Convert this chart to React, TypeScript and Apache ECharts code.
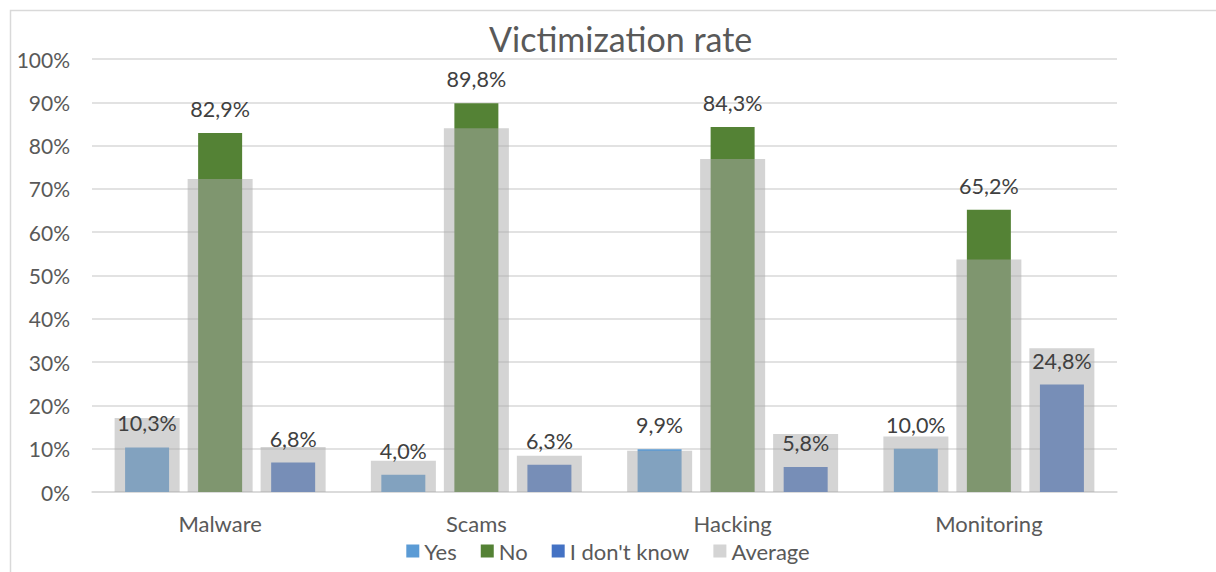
import React, { useEffect, useRef } from "react";
import * as echarts from "echarts";

const categories = ["Malware", "Scams", "Hacking", "Monitoring"];
const yesValues = [10.3, 4.0, 9.9, 10.0];
const noValues = [82.9, 89.8, 84.3, 65.2];
const idkValues = [6.8, 6.3, 5.8, 24.8];
const avgYes = [17.1, 7.2, 9.5, 12.8];
const avgNo = [72.3, 84.0, 76.9, 53.7];
const avgIdk = [10.4, 8.4, 13.4, 33.2];
const yTicks = { min: 0, max: 100, interval: 10 };

const FONT = "Lato, 'Liberation Sans', sans-serif";

export default function App() {
  const ref = useRef<HTMLDivElement>(null);
  useEffect(() => {
    if (!ref.current) return;
    const chart = echarts.init(ref.current, undefined, { renderer: "svg" });
    const fmt = (p: any) => Number(p.value).toFixed(1).replace(".", ",") + "%";
    const narrow = { barWidth: 44, barGap: "66%" };
    const wide = { barWidth: 65, barGap: "12.3%" };
    const avgStyle = { color: "rgba(170,170,170,0.5)" };
    const labelSeries = (name: string, data: number[]) => ({
      name: name + "_label",
      type: "bar",
      xAxisIndex: 2,
      data,
      ...narrow,
      z: 10,
      silent: true,
      itemStyle: { color: "rgba(0,0,0,0)" },
      label: {
        show: true,
        position: "top",
        distance: 13,
        formatter: fmt,
        color: "#404040",
        fontSize: 21.5,
        fontFamily: FONT,
      },
    });
    const hiddenX = {
      type: "category",
      data: categories,
      show: false,
    };
    chart.setOption({
      animation: false,
      backgroundColor: "#ffffff",
      textStyle: { fontFamily: FONT },
      title: {
        text: "Victimization rate",
        left: 484,
        top: 16,
        textStyle: { fontFamily: FONT, fontSize: 34, fontWeight: "normal", color: "#595959" },
      },
      graphic: [
        {
          type: "rect",
          shape: { x: 10.5, y: 10.5, width: 1230, height: 600 },
          style: { fill: "none", stroke: "#d9d9d9", lineWidth: 1.5 },
          silent: true,
        },
      ],
      legend: {
        bottom: 5,
        left: "center",
        itemWidth: 13,
        itemHeight: 13,
        itemGap: 24,
        icon: "rect",
        textStyle: { fontFamily: FONT, fontSize: 22, color: "#595959" },
        data: ["Yes", "No", "I don't know", "Average"],
      },
      grid: { left: 92, right: 99, top: 59, bottom: 80, containLabel: false },
      xAxis: [
        {
          type: "category",
          data: categories,
          axisLine: { lineStyle: { color: "#d9d9d9", width: 1.5 } },
          axisTick: { show: false },
          axisLabel: { color: "#595959", fontSize: 22, fontFamily: FONT, margin: 20 },
        },
        hiddenX,
        hiddenX,
      ],
      yAxis: {
        type: "value",
        min: yTicks.min,
        max: yTicks.max,
        interval: yTicks.interval,
        axisLine: { show: false },
        axisTick: { show: false },
        splitLine: { lineStyle: { color: "#d9d9d9", width: 1.5 } },
        axisLabel: { formatter: "{value}%", color: "#595959", fontSize: 21, fontFamily: FONT, margin: 22 },
      },
      series: [
        { name: "Yes", type: "bar", xAxisIndex: 0, data: yesValues, ...narrow, z: 2, itemStyle: { color: "#5B9BD5" } },
        { name: "No", type: "bar", xAxisIndex: 0, data: noValues, ...narrow, z: 2, itemStyle: { color: "#548235" } },
        { name: "I don't know", type: "bar", xAxisIndex: 0, data: idkValues, ...narrow, z: 2, itemStyle: { color: "#4472C4" } },
        { name: "Average", type: "bar", xAxisIndex: 1, data: avgYes, ...wide, z: 3, itemStyle: avgStyle },
        { name: "Average", type: "bar", xAxisIndex: 1, data: avgNo, ...wide, z: 3, itemStyle: avgStyle },
        { name: "Average", type: "bar", xAxisIndex: 1, data: avgIdk, ...wide, z: 3, itemStyle: avgStyle },
        labelSeries("Yes", yesValues),
        labelSeries("No", noValues),
        labelSeries("I don't know", idkValues),
      ],
    });
    return () => chart.dispose();
  }, []);
  return (
    <div
      ref={ref}
      style={{ position: "absolute", left: 0, top: 0, width: 1216, height: 572 }}
    />
  );
}
